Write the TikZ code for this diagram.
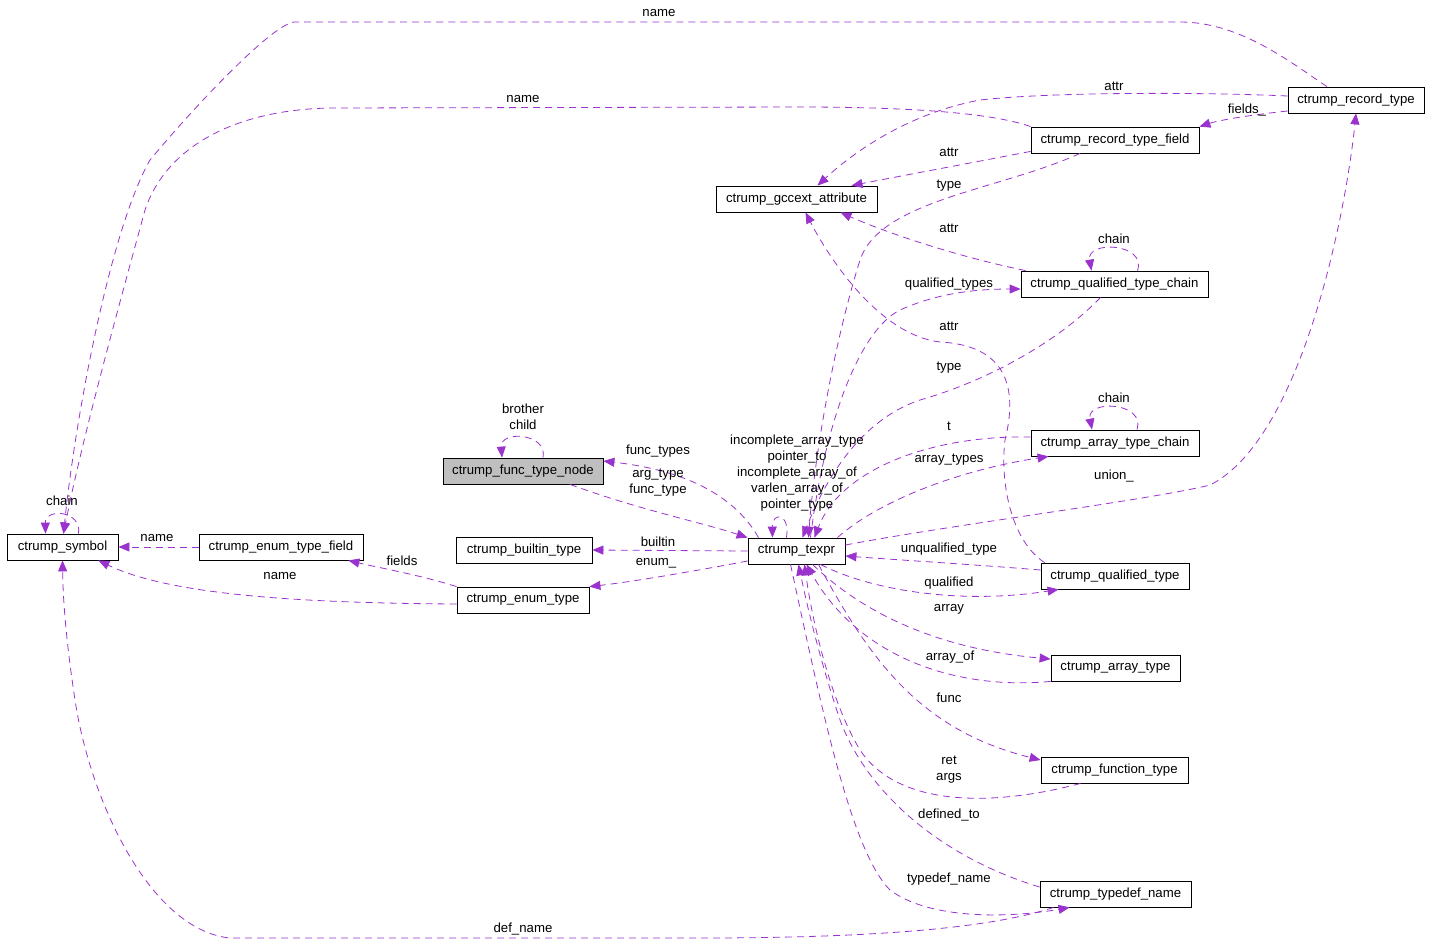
\documentclass[tikz,border=0pt]{standalone}
\usepackage{xcolor}
\usepackage{fontspec}
\setmainfont{Liberation Sans}
\usepackage{tikz}
\usetikzlibrary{arrows.meta}
\definecolor{usecol}{HTML}{9A32CD}
\definecolor{mainfill}{HTML}{BFBFBF}
\newcommand{\dxfont}{\fontsize{13.2}{16}\selectfont}

\begin{document}
\begin{tikzpicture}[x=1pt,y=-1pt,
  cls/.style={draw, line width=0.8pt, minimum height=26pt, inner sep=0pt, font=\dxfont},
  usage/.style={draw=usecol, dash pattern=on 7pt off 5pt, line width=0.8pt, -{Triangle[length=11pt,width=9pt]}},
  lbl/.style={font=\dxfont, align=center, inner sep=0pt, text=black}]
\useasboundingbox (0,0) rectangle (1429,943);

\node[cls, minimum width=111pt] (symbol) at (62.5,547) {ctrump\_symbol};
\node[cls, minimum width=164pt] (enumfield) at (281,547) {ctrump\_enum\_type\_field};
\node[cls, minimum width=160pt, fill=mainfill] (functype) at (523,471) {ctrump\_func\_type\_node};
\node[cls, minimum width=136pt] (builtin) at (524,550) {ctrump\_builtin\_type};
\node[cls, minimum width=132pt] (enumtype) at (523,600) {ctrump\_enum\_type};
\node[cls, minimum width=97pt] (texpr) at (796.5,551) {ctrump\_texpr};
\node[cls, minimum width=161pt] (gccext) at (796.5,199) {ctrump\_gccext\_attribute};
\node[cls, minimum width=168pt] (rtfield) at (1115,140) {ctrump\_record\_type\_field};
\node[cls, minimum width=136pt] (rectype) at (1356,100) {ctrump\_record\_type};
\node[cls, minimum width=187pt] (qtchain) at (1114.5,284) {ctrump\_qualified\_type\_chain};
\node[cls, minimum width=168pt] (atchain) at (1115,443) {ctrump\_array\_type\_chain};
\node[cls, minimum width=148pt] (qtype) at (1115,576) {ctrump\_qualified\_type};
\node[cls, minimum width=129pt] (atype) at (1115.5,668) {ctrump\_array\_type};
\node[cls, minimum width=147pt] (ftype) at (1114.5,770) {ctrump\_function\_type};
\node[cls, minimum width=151pt] (tdname) at (1115.5,894) {ctrump\_typedef\_name};

\draw[usage] ([xshift=-29pt]rectype.north) .. controls (1290,62) and (1240,22) .. (1180,22) -- (295,22)
  .. controls (275,22) and (200,100) .. (150,160) .. controls (110,230) and (75,420) .. ([xshift=1pt]symbol.north)
  node[lbl] at (659,13) {name};
\draw[usage] (rtfield.north west) .. controls (990,112) and (900,107) .. (800,107) -- (330,108)
  .. controls (230,110) and (165,150) .. (145,210) .. controls (115,320) and (82,440) .. ([xshift=1pt]symbol.north)
  node[lbl] at (523,99) {name};
\draw[usage] ([yshift=4pt]rectype.west) .. controls (1200,92) and (1050,92) .. (980,100)
  .. controls (900,115) and (845,160) .. ([xshift=21pt]gccext.north)
  node[lbl] at (1114,86) {attr};
\draw[usage] ([yshift=-11pt]rectype.west) .. controls (1250,115) and (1220,120) .. (rtfield.north east)
  node[lbl] at (1247,110) {fields\_};
\draw[usage] ([yshift=2pt]rtfield.south west) .. controls (960,165) and (890,178) .. ([xshift=55pt]gccext.north)
  node[lbl] at (949,152) {attr};
\draw[usage] ([xshift=-35pt]rtfield.south) .. controls (1000,190) and (880,200) .. (860,260)
  .. controls (835,340) and (815,450) .. ([xshift=12pt]texpr.north)
  node[lbl] at (949,186) {type};
\draw[usage] ([xshift=5pt]qtchain.north west) .. controls (950,255) and (880,230) .. ([xshift=44pt]gccext.south)
  node[lbl] at (949,228) {attr};
\draw[usage] ([xshift=23pt]qtchain.north) .. controls (1147,243) and (1086,240) .. ([xshift=-23pt]qtchain.north)
  node[lbl] at (1114,239) {chain};
\draw[usage] ([xshift=14pt]texpr.north) .. controls (825,420) and (860,330) .. (900,310)
  .. controls (940,292) and (980,289) .. ([yshift=-5pt]qtchain.west)
  node[lbl] at (949,284) {qualified\_types};
\draw[usage] ([xshift=4pt]qtype.north west) .. controls (1010,540) and (1000,480) .. (1005,440)
  .. controls (1020,380) and (1000,345) .. (940,342) .. controls (880,335) and (830,260) .. ([xshift=9pt]gccext.south)
  node[lbl] at (949,326) {attr};
\draw[usage] ([xshift=-14pt]qtchain.south) .. controls (1060,340) and (990,380) .. (920,400)
  .. controls (860,420) and (825,480) .. ([xshift=6pt]texpr.north)
  node[lbl] at (949,368) {type};
\draw[usage] ([xshift=22pt]atchain.north) .. controls (1146,402) and (1086,399) .. ([xshift=-23pt]atchain.north)
  node[lbl] at (1114,398) {chain};
\draw[usage] ([yshift=6pt]atchain.west) .. controls (930,435) and (840,470) .. ([xshift=18pt]texpr.north)
  node[lbl] at (949,426) {t};
\draw[usage] ([xshift=-8pt]texpr.north east) .. controls (880,500) and (960,470) .. ([xshift=18pt]atchain.south west)
  node[lbl] at (949,460) {array\_types};
\draw[usage] ([yshift=6pt]texpr.east) .. controls (950,525) and (1150,500) .. (1210,485)
  .. controls (1300,440) and (1345,220) .. (rectype.south)
  node[lbl] at (1114,476) {union\_};
\draw[usage] ([xshift=-10pt]texpr.north) .. controls (790,512) and (772,512) .. ([xshift=-24pt]texpr.north)
  node[lbl] at (797,473) {incomplete\_array\_type\\pointer\_to\\incomplete\_array\_of\\varlen\_array\_of\\pointer\_type};
\draw[usage] ([xshift=-38pt]texpr.north) .. controls (740,505) and (700,472) .. ([yshift=10pt]functype.east)
  node[lbl] at (658,451) {func\_types};
\draw[usage] ([xshift=47pt]functype.south) .. controls (640,510) and (700,522) .. (texpr.north west)
  node[lbl] at (658,483) {arg\_type\\func\_type};
\draw[usage] ([xshift=20pt]functype.north) .. controls (548,433) and (500,430) .. ([xshift=-21pt]functype.north)
  node[lbl] at (523,417) {brother\\child};
\draw[usage] (texpr.west) -- (builtin.east)
  node[lbl] at (658,542) {builtin};
\draw[usage] ([yshift=-10pt]texpr.west) .. controls (690,572) and (630,582) .. (enumtype.north east)
  node[lbl] at (656,563) {enum\_};
\draw[usage] (enumtype.north west) .. controls (420,575) and (380,568) .. ([xshift=-15pt]enumfield.south east)
  node[lbl] at (402,561) {fields};
\draw[usage] ([yshift=-4pt]enumtype.west) .. controls (300,603) and (170,595) .. ([xshift=-20pt]symbol.south east)
  node[lbl] at (280,576) {name};
\draw[usage] (enumfield.west) -- (symbol.east)
  node[lbl] at (157,538) {name};
\draw[usage] ([xshift=16pt]symbol.north) .. controls (82,510) and (45,508) .. ([xshift=-17pt]symbol.north)
  node[lbl] at (62,501) {chain};
\draw[usage] ([yshift=6pt]qtype.west) .. controls (980,565) and (900,560) .. ([yshift=-5pt]texpr.east)
  node[lbl] at (949,549) {unqualified\_type};
\draw[usage] ([xshift=-25pt]texpr.south east) .. controls (870,590) and (960,605) .. ([xshift=18pt]qtype.south west)
  node[lbl] at (949,583) {qualified};
\draw[usage] ([xshift=16pt]texpr.south) .. controls (870,620) and (950,650) .. ([yshift=9pt]atype.west)
  node[lbl] at (949,609) {array};
\draw[usage] (atype.south west) .. controls (960,690) and (860,660) .. ([xshift=10pt]texpr.south)
  node[lbl] at (950,657) {array\_of};
\draw[usage] ([xshift=22pt]texpr.south) .. controls (870,660) and (920,730) .. ([yshift=10pt]ftype.west)
  node[lbl] at (949,698) {func};
\draw[usage] ([xshift=-34pt]ftype.south) .. controls (1000,805) and (900,810) .. (860,750)
  .. controls (830,700) and (812,620) .. ([xshift=8pt]texpr.south)
  node[lbl] at (949,770) {ret\\args};
\draw[usage] ([yshift=7pt]tdname.west) .. controls (950,860) and (870,800) .. (840,720)
  .. controls (820,660) and (808,610) .. ([xshift=2pt]texpr.south)
  node[lbl] at (949,815) {defined\_to};
\draw[usage] ([xshift=-6pt]texpr.south) .. controls (820,700) and (850,850) .. (890,890)
  .. controls (930,920) and (1010,918) .. ([xshift=30pt]tdname.south west)
  node[lbl] at (949,879) {typedef\_name};
\draw[usage] ([xshift=14pt]tdname.south west) .. controls (1000,925) and (900,938) .. (700,938) -- (230,938)
  .. controls (150,930) and (90,800) .. (75,700) .. controls (66,640) and (63,600) .. (symbol.south)
  node[lbl] at (523,929) {def\_name};
\end{tikzpicture}
\end{document}
